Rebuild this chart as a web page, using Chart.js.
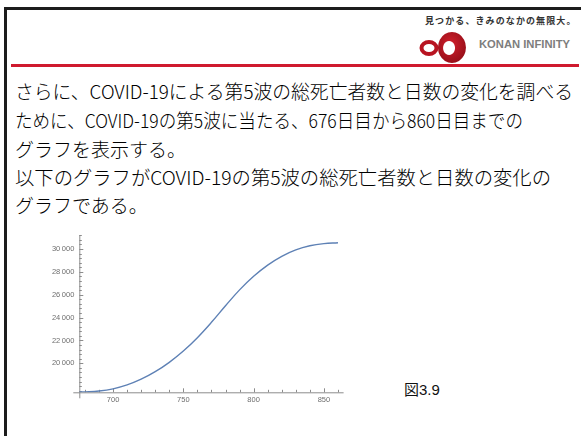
<!DOCTYPE html>
<html lang="ja">
<head>
<meta charset="utf-8">
<script src="https://cdn.jsdelivr.net/npm/chart.js@4/dist/chart.umd.min.js"></script>
<style>
  html, body { margin: 0; padding: 0; background: #fff; }
  body { width: 581px; height: 436px; position: relative; overflow: hidden;
         font-family: "Noto Sans CJK JP", "Noto Sans", sans-serif; }
  .frame-top { position: absolute; left: 4px; top: 7px; width: 577px; height: 3px; background: #1c1c1c; }
  .frame-left { position: absolute; left: 4px; top: 7px; width: 3px; height: 429px; background: #1c1c1c; }
  .rule { position: absolute; left: 11px; top: 64px; width: 568px; height: 3px; background: #cf1a2e; }
  .tagline { position: absolute; left: 425px; top: 15px; font-size: 9px; font-weight: bold;
             letter-spacing: 1.1px; color: #333; white-space: nowrap; line-height: 12px; }
  .brand { position: absolute; left: 479px; top: 38px; font-family: "Liberation Sans", Arial, sans-serif;
           font-size: 10.5px; font-weight: bold; color: #7d7d7d; white-space: nowrap; line-height: 13px;
           transform-origin: left center; }
  .logo { position: absolute; left: 416px; top: 30px; }
  .line { position: absolute; left: 15px; font-size: 19px; font-weight: 300; color: #000; white-space: nowrap;
          line-height: 24px; transform-origin: left center; }
  .fig { position: absolute; left: 404px; top: 381px; font-size: 15px; color: #111; line-height: 18px;
         font-family: "Liberation Sans", "Noto Sans CJK JP", sans-serif; }
  #chartBox { position: absolute; left: 30px; top: 225px; width: 330px; height: 200px; }
</style>
</head>
<body>
<div class="frame-top"></div>
<div class="frame-left"></div>
<div class="tagline">見つかる、きみのなかの無限大。</div>
<svg class="logo" width="56" height="36" viewBox="0 0 56 36">
  <defs>
    <radialGradient id="ringGrad" cx="0.45" cy="0.4" r="0.7">
      <stop offset="0" stop-color="#d3202c"/>
      <stop offset="1" stop-color="#8e0c16"/>
    </radialGradient>
  </defs>
  <ellipse cx="13" cy="18" rx="7.5" ry="6" fill="none" stroke="#b81421" stroke-width="4"/>
  <path fill-rule="evenodd" fill="url(#ringGrad)"
        d="M36 2 a14 15.5 0 1 1 -0.1 0 Z M33 11 a6 7 0 1 0 0.1 0 Z"/>
</svg>
<div class="brand" data-w="91">KONAN INFINITY</div>
<div class="rule"></div>

<div class="line" style="top:79px" data-w="558">さらに、COVID-19による第5波の総死亡者数と日数の変化を調べる</div>
<div class="line" style="top:108px" data-w="508">ために、COVID-19の第5波に当たる、676日目から860日目までの</div>
<div class="line" style="top:137px">グラフを表示する。</div>
<div class="line" style="top:165px" data-w="536">以下のグラフがCOVID-19の第5波の総死亡者数と日数の変化の</div>
<div class="line" style="top:193px">グラフである。</div>

<div class="fig">図3.9</div>

<div id="chartBox"><canvas id="chart"></canvas></div>

<script>
// Day numbers (from the start of the epidemic) and total deaths during the 5th wave
const days   = [676, 680, 690, 700, 710, 720, 730, 740, 750, 760, 770, 780, 790, 800, 810, 820, 830, 840, 850, 860];
const deaths = [17480, 17495, 17575, 17765, 18105, 18605, 19265, 20085, 21075, 22245, 23585, 25035, 26425, 27615, 28595, 29365, 29925, 30285, 30475, 30555];

// Labelled tick values
const xTicks = [700, 750, 800, 850];
const yTicks = [20000, 22000, 24000, 26000, 28000, 30000];

// Axis ranges
const xMin = 676, xMax = 864;
const yMin = 17460, yMax = 31230;

// Stretch text lines to their set widths
document.querySelectorAll('[data-w]').forEach(el => {
  const w = el.getBoundingClientRect().width;
  const target = parseFloat(el.dataset.w);
  el.style.transform = 'scaleX(' + (target / w) + ')';
});

const groupDigits = v => String(v).replace(/\B(?=(\d{3})+(?!\d))/g, '\u2009');

// Axis lines with inward major/minor ticks
const axesPlugin = {
  id: 'axesPlugin',
  beforeDatasetsDraw(chart) {
    const { ctx, chartArea: a, scales: { x, y } } = chart;
    const x0 = x.getPixelForValue(xMin);
    const y0 = y.getPixelForValue(yMin);
    ctx.save();
    ctx.strokeStyle = '#8c8c8c';
    ctx.lineWidth = 1;
    ctx.beginPath();
    ctx.moveTo(x0 - 6, y0 + 0.5);
    ctx.lineTo(a.right, y0 + 0.5);
    ctx.moveTo(x0 + 0.5, a.top);
    ctx.lineTo(x0 + 0.5, y0 + 6);
    ctx.stroke();
    ctx.beginPath();
    for (let d = 680; d <= xMax; d += 10) {
      const px = Math.round(x.getPixelForValue(d)) + 0.5;
      const len = xTicks.includes(d) ? 4 : 2.5;
      ctx.moveTo(px, y0);
      ctx.lineTo(px, y0 - len);
    }
    for (let v = 17600; v <= yMax; v += 400) {
      const py = Math.round(y.getPixelForValue(v)) + 0.5;
      const len = yTicks.includes(v) ? 4 : 2.5;
      ctx.moveTo(x0, py);
      ctx.lineTo(x0 + len, py);
    }
    ctx.stroke();
    ctx.restore();
  }
};

new Chart(document.getElementById('chart'), {
  type: 'line',
  data: {
    datasets: [{
      data: days.map((d, i) => ({ x: d, y: deaths[i] })),
      borderColor: '#5e81b5',
      borderWidth: 1.4,
      pointRadius: 0,
      tension: 0.4,
      fill: false
    }]
  },
  options: {
    responsive: true,
    maintainAspectRatio: false,
    animation: false,
    layout: { padding: { left: 9.3, top: 10, right: 16.4, bottom: 12.7 } },
    plugins: { legend: { display: false }, tooltip: { enabled: false } },
    scales: {
      x: {
        type: 'linear', min: xMin, max: xMax,
        afterBuildTicks: s => { s.ticks = xTicks.map(v => ({ value: v })); },
        afterFit: s => { s.height = 20; },
        grid: { display: false, drawTicks: false },
        border: { display: false },
        ticks: { padding: 3.5, color: '#6e6e6e', font: { size: 7.5, family: 'Liberation Sans' }, maxRotation: 0,
                 callback: v => String(v) }
      },
      y: {
        type: 'linear', min: yMin, max: yMax,
        afterBuildTicks: s => { s.ticks = yTicks.map(v => ({ value: v })); },
        afterFit: s => { s.width = 40; },
        grid: { display: false, drawTicks: false },
        border: { display: false },
        ticks: { padding: 5, color: '#6e6e6e', font: { size: 7.5, family: 'Liberation Sans' },
                 callback: v => groupDigits(v) }
      }
    }
  },
  plugins: [axesPlugin]
});
</script>
</body>
</html>
